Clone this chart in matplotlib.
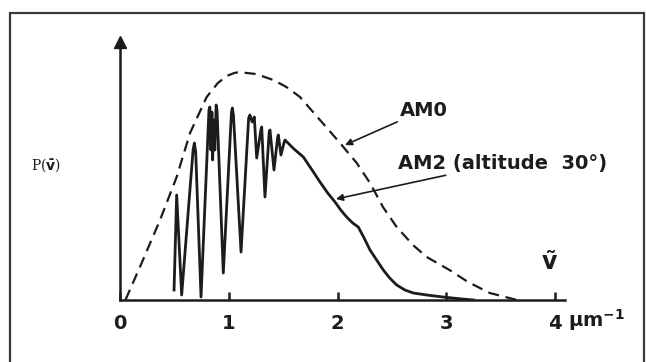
import numpy as np
import matplotlib
matplotlib.use("Agg")
import matplotlib.pyplot as plt
from matplotlib.patches import Rectangle

#some style
plt.rc('font', family='DejaVu Sans', weight='bold', size=14)
plt.rc('mathtext', fontset='dejavusans')

ink = '#1c1c1c'

#AM0 spectrum (dashed), wavenumber in um^-1, height in arbitrary units
am0_nu = [0.05, 0.211, 0.368, 0.521, 0.644, 0.797, 0.90, 0.981, 1.05, 1.10, 1.165, 1.25,
          1.33, 1.410, 1.53, 1.655, 1.839, 2.023, 2.177, 2.299, 2.418, 2.544, 2.694,
          2.820, 3.03, 3.20, 3.40, 3.651]
am0_p = [0, 40, 80, 123, 167, 203, 217, 224, 227, 228, 227, 226,
         223, 220, 213, 203, 180, 157, 137, 117, 93, 73, 55,
         43, 30, 18, 7, 0]

#AM2 spectrum (solid), with the absorption bands
am2_nu = [0.497, 0.521, 0.567, 0.672, 0.684, 0.696, 0.745, 0.818, 0.826, 0.836, 0.845,
          0.852, 0.862, 0.872, 0.884, 0.892, 0.950, 1.025, 1.033, 1.043, 1.113, 1.183,
          1.195, 1.215, 1.235, 1.257, 1.295, 1.303, 1.333, 1.372, 1.379, 1.416, 1.450,
          1.456, 1.480, 1.510, 1.517, 1.600, 1.686, 1.760, 1.839, 1.910, 1.977, 2.030,
          2.084, 2.140, 2.191, 2.240, 2.299, 2.360, 2.421, 2.480, 2.544, 2.620, 2.697,
          2.820, 2.970, 3.100, 3.250]
am2_p = [10, 105, 5, 150, 157, 148, 3, 190, 193, 150, 188,
         140, 180, 150, 195, 190, 27, 188, 192, 185, 48, 182,
         185, 178, 183, 142, 170, 173, 103, 168, 170, 130, 163,
         165, 145, 158, 160, 151, 143, 131, 118, 107, 98, 90,
         83, 77, 73, 63, 50, 40, 30, 22, 15, 10, 7,
         5, 3, 1.5, 0]

ticks = [0, 1, 2, 3, 4]
tick_labels = ['0', '1', '2', '3', '4']

fig = plt.figure(figsize=(6.46, 3.62), dpi=100, facecolor='white')

#frame round the whole figure
fig.patches.append(Rectangle((10/646, -0.05), 634/646, 349/362 + 0.05,
                             transform=fig.transFigure, fill=False,
                             edgecolor='#3a3a3a', lw=1.6))

ax = fig.add_axes([120/646, 62/362, 445/646, 258/362])
ax.set_xlim(0, 445/108.75)
ax.set_ylim(0, 258)

ax.plot(am0_nu, am0_p, color=ink, lw=1.6, linestyle=(0, (5, 3)))
ax.plot(am2_nu, am2_p, color=ink, lw=2.0, solid_joinstyle='round')

for s in ['top', 'right']:
    ax.spines[s].set_visible(False)
for s in ['left', 'bottom']:
    ax.spines[s].set_color(ink)
    ax.spines[s].set_linewidth(1.8)

#arrow head on the y axis
ax.plot([0], [1], marker='^', ms=8, color=ink, transform=ax.transAxes, clip_on=False)

ax.set_yticks([])
ax.set_xticks(ticks, labels=tick_labels)
ax.tick_params(axis='x', direction='in', length=6, width=1.8, color=ink,
               pad=10, labelsize=14, labelcolor=ink)
ax.set_facecolor('none')

#units and axis names
ax.text(4.12, -20, r'μm$^{\mathbf{-1}}$', ha='left', va='center', color=ink,
        fontsize=14, clip_on=False)
ax.text(3.95, 37, r'$\tilde{\mathbf{v}}$', ha='center', va='center', color=ink,
        fontsize=17, clip_on=False)
ax.text(-0.68, 135, r'P($\bar{\mathrm{v}}$)', ha='center', va='center', color=ink,
        fontsize=10, fontweight='normal', family='DejaVu Serif', clip_on=False)

arrow = dict(arrowstyle='-|>', color=ink, lw=1.2, shrinkA=0, shrinkB=0,
             mutation_scale=10)
ax.annotate('AM0', xy=(2.069, 155), xytext=(2.575, 190), ha='left', va='center',
            color=ink, fontsize=14, arrowprops=arrow)
ax.annotate('AM2 (altitude  30°)', xy=(1.986, 101), xytext=(2.556, 137),
            ha='left', va='center', color=ink, fontsize=14, arrowprops=arrow)

fig.savefig('out.png', dpi=100)
